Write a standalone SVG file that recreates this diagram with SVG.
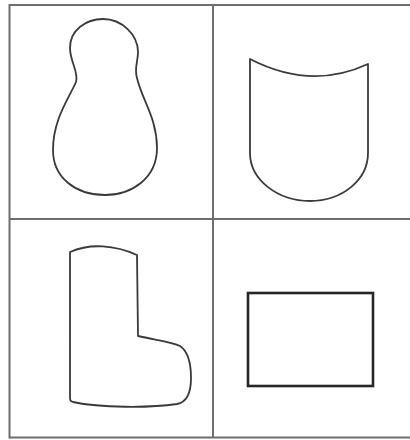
<svg xmlns="http://www.w3.org/2000/svg" width="410" height="440" viewBox="0 0 410 440">
<style>
.grid{stroke:#6e6e6e;stroke-width:2;fill:none}
.shape{stroke:#3a3a3a;stroke-width:1.8;fill:#fff;stroke-linejoin:round}
.rect{stroke:#262626;stroke-width:2.6;fill:#fff}
</style>
<rect width="410" height="440" fill="#fff"/>
<g id="grid">
<line class="grid" x1="9.5" y1="5" x2="410" y2="5"/>
<line class="grid" x1="9.5" y1="437.5" x2="410" y2="437.5"/>
<line class="grid" x1="9.5" y1="4" x2="9.5" y2="438.5"/>
<line class="grid" x1="213" y1="5" x2="213" y2="437.5"/>
<line class="grid" x1="9.5" y1="219" x2="410" y2="219"/>
</g>
<g id="pear">
<path class="shape" d="M103,19 C122,19 138,35 138,52 C138,62 134,68 137,78 C142,100 157,118 157,148 C157,178 132,195 105,195 C76,195 53,178 53,150 C53,120 68,100 76,82 C79,72 70,62 70,48 C70,30 86,19 103,19 Z"/>
</g>
<g id="shield">
<path class="shape" d="M250,59 Q311,90.5 368,64 L368,153 C368,180 342,201 310,201 C278,201 250,180 250,153 Z"/>
</g>
<g id="boot">
<path class="shape" d="M70,252 C90,243 115,245 137,255 L138,336 C155,340 172,342 180,346 C189,352 191,365 191,378 C191,392 188,402 177,404 C150,408 100,408 73,402 C70,401 70,400 70,397 Z"/>
</g>
<g id="rectangle">
<rect class="rect" x="248" y="293" width="125" height="93"/>
</g>
</svg>
